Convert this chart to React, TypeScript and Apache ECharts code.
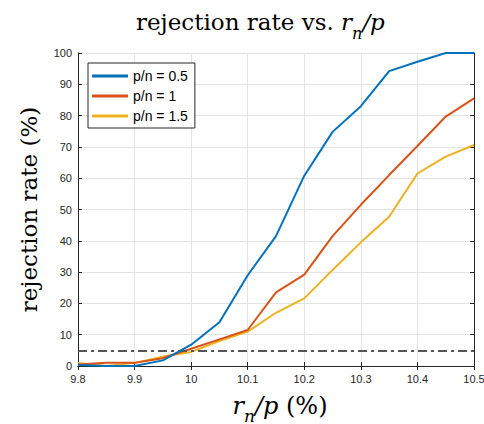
import React, { useEffect, useRef } from "react";
import * as echarts from "echarts";

const xValues = [9.8, 9.85, 9.9, 9.95, 10.0, 10.05, 10.1, 10.15, 10.2, 10.25, 10.3, 10.35, 10.4, 10.45, 10.5];
const blueValues = [0.3, 0, 0, 1.8, 6.8, 14, 29, 41.5, 60.8, 74.8, 83, 94.2, 97.2, 100, 100];
const redValues = [0.5, 1, 1, 2.5, 5.5, 8.5, 11.5, 23.5, 29.2, 41.5, 51.5, 61, 70.3, 79.7, 85.5];
const yellowValues = [1, 0, 1, 3, 4.5, 8, 11, 17, 21.6, 30.7, 39.5, 47.7, 61.5, 66.9, 70.6];
const seriesNames = ["p/n = 0.5", "p/n = 1", "p/n = 1.5"];
const thresholdValue = 5;

const toPairs = (ys: number[]) => xValues.map((x, i) => [x, ys[i]]);

export default function App() {
  const ref = useRef<HTMLDivElement>(null);
  useEffect(() => {
    if (!ref.current) return;
    const chart = echarts.init(ref.current, null, { renderer: "svg" });
    const axisColor = "#262626";
    const tickFont = { fontFamily: "Liberation Sans", fontSize: 11, color: axisColor };
    const serif = "DejaVu Serif";
    const colors = ["#0072BD", "#D95319", "#EDB120"];
    chart.setOption({
      animation: false,
      backgroundColor: "#ffffff",
      title: {
        text: "{a|rejection rate vs. }{i|r}{s|n}{i|/p}",
        left: 131,
        top: -2,
        textStyle: {
          fontWeight: "normal",
          rich: {
            a: { fontFamily: serif, fontWeight: "normal", fontSize: 23, color: "#000", lineHeight: 38, verticalAlign: "middle" },
            i: { fontFamily: serif, fontWeight: "normal", fontStyle: "italic", fontSize: 23, color: "#000", lineHeight: 38, verticalAlign: "middle" },
            s: { fontFamily: serif, fontWeight: "normal", fontStyle: "italic", fontSize: 16, color: "#000", lineHeight: 17, verticalAlign: "bottom" },
          },
        },
      },
      legend: {
        left: 88,
        top: 63,
        orient: "vertical",
        data: seriesNames,
        icon: "rect",
        itemWidth: 36,
        itemHeight: 3,
        itemGap: 4,
        padding: [5, 7, 4, 4],
        borderColor: axisColor,
        borderWidth: 1,
        backgroundColor: "#fff",
        textStyle: { fontFamily: "Liberation Sans", fontSize: 14, color: "#000", lineHeight: 16 },
      },
      grid: { left: 78, right: 10, top: 53, bottom: 58, outerBoundsMode: "none", containLabel: false },
      xAxis: [
        {
          type: "value",
          min: 9.8,
          max: 10.5,
          interval: 0.1,
          name: "{i|r}{s|n}{i|/p}{a| (%)}",
          nameLocation: "middle",
          nameGap: 22,
          nameTextStyle: {
            padding: [0, 0, 0, 8],
            rich: {
              a: { fontFamily: serif, fontSize: 24, color: "#000", lineHeight: 36, verticalAlign: "middle" },
              i: { fontFamily: serif, fontStyle: "italic", fontSize: 24, color: "#000", lineHeight: 36, verticalAlign: "middle" },
              s: { fontFamily: serif, fontStyle: "italic", fontSize: 17, color: "#000", lineHeight: 16, verticalAlign: "bottom" },
            },
          },
          axisLine: { lineStyle: { color: axisColor, width: 1 } },
          axisTick: { inside: true, length: 4, lineStyle: { color: axisColor } },
          axisLabel: { ...tickFont, margin: 7, formatter: (v: number) => String(parseFloat(v.toFixed(1))) },
          splitLine: { show: true, lineStyle: { color: "#e3e3e3", width: 1 } },
        },
        {
          type: "value",
          position: "top",
          min: 9.8,
          max: 10.5,
          interval: 0.1,
          axisLine: { show: true, lineStyle: { color: axisColor, width: 1 } },
          axisTick: { show: true, inside: true, length: 4, lineStyle: { color: axisColor } },
          axisLabel: { show: false },
          splitLine: { show: false },
        },
      ],
      yAxis: [
        {
          type: "value",
          min: 0,
          max: 100,
          interval: 10,
          name: "rejection rate (%)",
          nameLocation: "middle",
          nameGap: 38,
          nameTextStyle: { fontFamily: serif, fontSize: 23, color: "#000" },
          axisLine: { show: true, lineStyle: { color: axisColor, width: 1 } },
          axisTick: { show: true, inside: true, length: 4, lineStyle: { color: axisColor } },
          axisLabel: { ...tickFont, margin: 6 },
          splitLine: { show: true, lineStyle: { color: "#e3e3e3", width: 1 } },
        },
        {
          type: "value",
          position: "right",
          min: 0,
          max: 100,
          interval: 10,
          axisLine: { show: true, lineStyle: { color: axisColor, width: 1 } },
          axisTick: { show: true, inside: true, length: 4, lineStyle: { color: axisColor } },
          axisLabel: { show: false },
          splitLine: { show: false },
        },
      ],
      series: [
        ...[blueValues, redValues, yellowValues].map((vals, i) => ({
          name: seriesNames[i],
          type: "line",
          data: toPairs(vals),
          showSymbol: false,
          symbol: "none",
          lineStyle: { color: colors[i], width: 2 },
          itemStyle: { color: colors[i] },
          z: 3 + (2 - i),
          ...(i === 0
            ? {
                markLine: {
                  silent: true,
                  symbol: "none",
                  label: { show: false },
                  lineStyle: { color: "#555555", width: 2, type: [9, 4, 3, 4] },
                  data: [{ yAxis: thresholdValue }],
                },
              }
            : {}),
        })),
      ],
    });
    return () => chart.dispose();
  }, []);
  return <div ref={ref} style={{ width: 484, height: 424, position: "absolute", left: 0, top: 0 }} />;
}
